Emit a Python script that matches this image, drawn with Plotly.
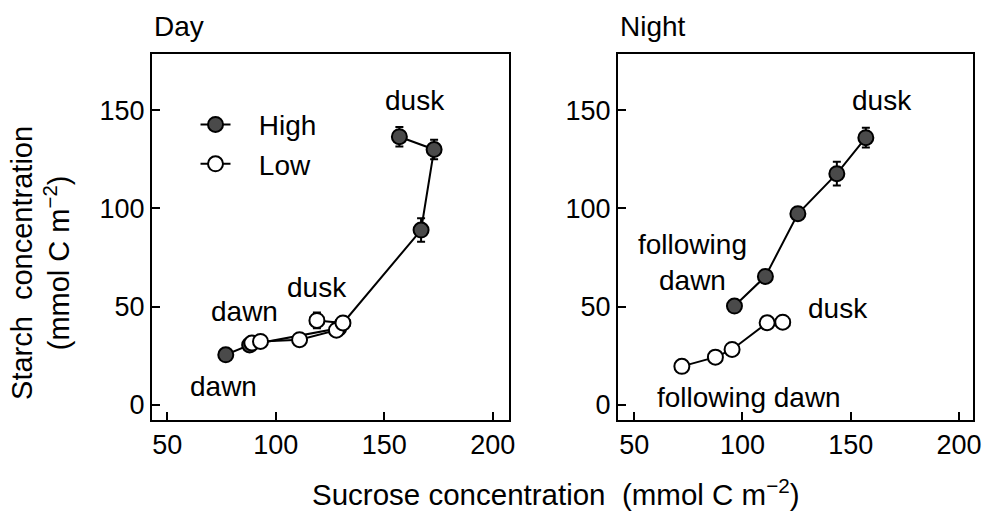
import plotly.graph_objects as go

# ---- data ----
day_high_x = [77, 88, 129, 167, 173, 157]
day_high_y = [25.5, 30.5, 39, 89, 130, 136.5]
day_high_err = [2, 2, 2, 6, 5, 5]

day_low_x = [89, 93, 111, 128, 131, 119]
day_low_y = [31.5, 32.3, 33.2, 38, 41.7, 43]
day_low_yerr = [2, 2, 2, 3, 3, 4]
day_low_xerr = [1, 1, 1, 3, 3, 3]

night_high_x = [157, 143.6, 125.6, 110.6, 96.3]
night_high_y = [136, 117.7, 97.3, 65.4, 50.3]
night_high_err = [5, 6, 3, 2, 1]

night_low_x = [118.6, 111.4, 95.2, 87.5, 72]
night_low_y = [42.1, 41.8, 28.2, 24.3, 19.6]
night_low_yerr = [3, 3, 1, 1, 1]
night_low_xerr = [3, 2, 1, 1, 1]

x_ticks = [50, 100, 150, 200]
y_ticks = [0, 50, 100, 150]

FONT = "Liberation Sans, Arial, sans-serif"
DARK = "#4a4a4a"
FS = 28

fig = go.Figure()

def add_series(x, y, yerr, xerr, fill, xa, ya, name, show):
    fig.add_trace(go.Scatter(
        x=x, y=y, mode="lines+markers", name=name, showlegend=show,
        xaxis=xa, yaxis=ya,
        line=dict(color="black", width=2),
        marker=dict(size=15, color=fill, line=dict(color="black", width=2)),
        error_y=dict(type="data", array=yerr, color="black", thickness=2, width=4),
        error_x=(dict(type="data", array=xerr, color="black", thickness=2, width=4)
                 if xerr is not None else dict(visible=False)),
    ))

NB = "\u00a0\u00a0\u00a0"
add_series(day_high_x, day_high_y, day_high_err, None, DARK, "x", "y", NB + "High", True)
add_series(day_low_x, day_low_y, day_low_yerr, day_low_xerr, "white", "x", "y", NB + "Low", True)
add_series(night_high_x, night_high_y, night_high_err, None, DARK, "x2", "y2", "High", False)
add_series(night_low_x, night_low_y, night_low_yerr, night_low_xerr, "white", "x2", "y2", "Low", False)

axis_common = dict(
    showline=True, linecolor="black", linewidth=2, mirror=True,
    ticks="inside", ticklen=8, tickwidth=2, tickcolor="black",
    showgrid=False, zeroline=False,
    tickfont=dict(family=FONT, size=27, color="black"),
)

fig.update_layout(
    width=986, height=512,
    margin=dict(l=152, r=13, t=54, b=92, autoexpand=False),
    plot_bgcolor="white", paper_bgcolor="white",
    font=dict(family=FONT, size=FS, color="black"),
    xaxis=dict(domain=[0, 0.4348], range=[43, 207.5], tickvals=x_ticks, anchor="y", **axis_common),
    yaxis=dict(domain=[0, 1], range=[-7.7, 178.6], tickvals=y_ticks, anchor="x", **axis_common),
    xaxis2=dict(domain=[0.5676, 1], range=[42.5, 206.5], tickvals=x_ticks, anchor="y2", **axis_common),
    yaxis2=dict(domain=[0, 1], range=[-7.7, 178.6], tickvals=y_ticks, anchor="x2", **axis_common),
    legend=dict(x=0.053, y=0.875, xanchor="left", yanchor="top", bgcolor="rgba(0,0,0,0)",
                font=dict(family=FONT, size=FS), tracegroupgap=0),
    showlegend=True,
)

def txt(x, y, s, xref="x", yref="y", size=FS, **kw):
    fig.add_annotation(x=x, y=y, xref=xref, yref=yref, text=s, showarrow=False,
                       font=dict(family=FONT, size=size, color="black"), **kw)

# Day labels
txt(164.3, 154.8, "dusk")
txt(119.1, 60, "dusk")
txt(85.6, 47.4, "dawn")
txt(76, 9.4, "dawn")
# Night labels
txt(164.3, 154.8, "dusk", "x2", "y2")
txt(144.2, 49.1, "dusk", "x2", "y2")
txt(76.9, 72.3, "following<br>dawn", "x2", "y2")
txt(103.2, 3.8, "following dawn", "x2", "y2")

# Panel titles
txt(0, 1.028, "Day", "x domain", "y domain", xanchor="left", yanchor="bottom")
txt(0, 1.028, "Night", "x2 domain", "y2 domain", xanchor="left", yanchor="bottom")

# Axis titles
txt(0.492, -0.197, "Sucrose concentration  (mmol C m<sup>\u22122</sup>)", "paper", "paper",
    size=29.5, xanchor="center", yanchor="middle")
txt(-0.136, 0.43, "Starch  concentration<br>(mmol C m<sup>\u22122</sup>)", "paper", "paper",
    size=29, xanchor="center", yanchor="middle", textangle=-90)

fig.write_html("out.html", config={"displayModeBar": False},
               post_script="document.body.style.margin='0px';")
